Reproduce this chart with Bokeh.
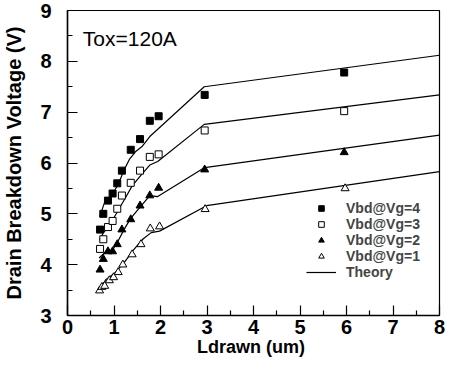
from bokeh.plotting import figure
from bokeh.models import Legend, LegendItem, Label, FixedTicker
from bokeh.embed import file_html
from bokeh.resources import INLINE

# ---- data ----
x_meas = [0.70, 0.77, 0.87, 0.97, 1.07, 1.17, 1.36, 1.56, 1.77, 1.96, 2.95, 5.95]
vg4 = [4.69, 5.00, 5.26, 5.40, 5.60, 5.85, 6.26, 6.47, 6.83, 6.92, 7.34, 7.78]
vg3 = [4.31, 4.50, 4.74, 4.86, 5.10, 5.36, 5.61, 5.85, 6.12, 6.17, 6.64, 7.02]
vg2 = [3.90, 4.11, 4.26, 4.26, 4.40, 4.69, 4.89, 5.16, 5.36, 5.51, 5.87, 6.21]
x_vg1 = [0.69, 0.74, 0.80, 0.90, 0.99, 1.09, 1.19, 1.39, 1.58, 1.78, 1.98, 2.96, 5.97]
vg1 = [3.49, 3.56, 3.58, 3.69, 3.75, 3.85, 4.00, 4.20, 4.40, 4.71, 4.75, 5.09, 5.50]

th4_x = [0.69, 0.80, 0.90, 1.01, 1.11, 1.21, 1.33, 1.46, 1.61, 1.77, 2.94, 8.0]
th4_y = [4.94, 5.23, 5.32, 5.45, 5.62, 5.85, 6.07, 6.22, 6.33, 6.52, 7.50, 8.12]
th3_x = [0.69, 0.76, 0.87, 0.97, 1.11, 1.25, 1.39, 1.60, 1.77, 1.94, 2.94, 8.0]
th3_y = [4.48, 4.61, 4.74, 4.88, 5.10, 5.32, 5.55, 5.78, 5.96, 6.03, 6.76, 7.34]
th2_x = [0.68, 0.83, 0.97, 1.08, 1.21, 1.35, 1.56, 1.77, 1.94, 2.95, 8.0]
th2_y = [4.13, 4.26, 4.29, 4.45, 4.68, 4.90, 5.13, 5.36, 5.34, 5.91, 6.55]
th1_x = [0.66, 0.83, 1.01, 1.21, 1.42, 1.63, 1.80, 1.98, 2.99, 8.0]
th1_y = [3.48, 3.71, 3.83, 4.03, 4.29, 4.51, 4.63, 4.66, 5.16, 5.83]

x_ticks = [0, 1, 2, 3, 4, 5, 6, 7, 8]
y_ticks = [3, 4, 5, 6, 7, 8, 9]

FONT = "Liberation Sans"

p = figure(width=445, height=363, x_range=(0, 8), y_range=(3, 9),
           output_backend="svg", toolbar_location=None,
           min_border_left=61, min_border_right=6, min_border_top=10,
           min_border_bottom=48)
p.grid.visible = False
p.outline_line_color = "black"
p.outline_line_width = 1.2
p.background_fill_color = "white"
p.border_fill_color = "white"

for ax in (p.xaxis[0], p.yaxis[0]):
    ax.axis_line_width = 1.5
    ax.major_tick_in = 10
    ax.major_tick_out = 0
    ax.minor_tick_in = 5
    ax.minor_tick_out = 0
    ax.major_tick_line_width = 1.2
    ax.minor_tick_line_width = 1.2
    ax.major_label_text_font = FONT
    ax.major_label_text_font_style = "bold"
    ax.major_label_text_font_size = "20px"
    ax.major_label_text_color = "black"
    ax.axis_label_text_font = FONT
    ax.axis_label_text_font_style = "bold"
    ax.axis_label_text_color = "black"

p.xaxis[0].ticker = FixedTicker(ticks=x_ticks, minor_ticks=[v + 0.5 for v in x_ticks[:-1]])
p.yaxis[0].ticker = FixedTicker(ticks=y_ticks, minor_ticks=[v + 0.5 for v in y_ticks[:-1]])
p.xaxis[0].axis_label = "Ldrawn  (um)"
p.xaxis[0].axis_label_text_font_size = "18px"
p.xaxis[0].major_label_standoff = 4
p.xaxis[0].axis_label_standoff = 0
p.yaxis[0].axis_label = "Drain Breakdown Voltage (V)"
p.yaxis[0].axis_label_text_font_size = "20px"
p.yaxis[0].major_label_standoff = 16
p.yaxis[0].axis_label_standoff = 12

lw = 1.2
l4 = p.line(th4_x, th4_y, line_color="black", line_width=lw)
p.line(th3_x, th3_y, line_color="black", line_width=lw)
p.line(th2_x, th2_y, line_color="black", line_width=lw)
p.line(th1_x, th1_y, line_color="black", line_width=lw)

s4 = p.scatter(x_meas, vg4, marker="square", size=7, fill_color="black", line_color="black")
s3 = p.scatter(x_meas, vg3, marker="square", size=7, fill_color="white", line_color="black", line_width=1)
s2 = p.scatter(x_meas, vg2, marker="triangle", size=8, fill_color="black", line_color="black")
s1 = p.scatter(x_vg1, vg1, marker="triangle", size=8, fill_color="white", line_color="black", line_width=1)

p.add_layout(Label(x=0.33, y=8.45, text="Tox=120A", text_font=FONT,
                   text_font_size="21px", text_baseline="middle", text_color="black"))

legend = Legend(items=[
    LegendItem(label="Vbd@Vg=4", renderers=[s4]),
    LegendItem(label="Vbd@Vg=3", renderers=[s3]),
    LegendItem(label="Vbd@Vg=2", renderers=[s2]),
    LegendItem(label="Vbd@Vg=1", renderers=[s1]),
    LegendItem(label="Theory", renderers=[l4]),
], location=(239, 35))
legend.background_fill_alpha = 0
legend.border_line_alpha = 0
legend.padding = 0
legend.margin = 0
legend.spacing = 0
legend.glyph_width = 30
legend.glyph_height = 14
legend.label_height = 14
legend.label_standoff = 10
legend.label_text_font = FONT
legend.label_text_font_style = "bold"
legend.label_text_font_size = "14px"
p.add_layout(legend)

open("out.html", "w").write(file_html(p, INLINE))
